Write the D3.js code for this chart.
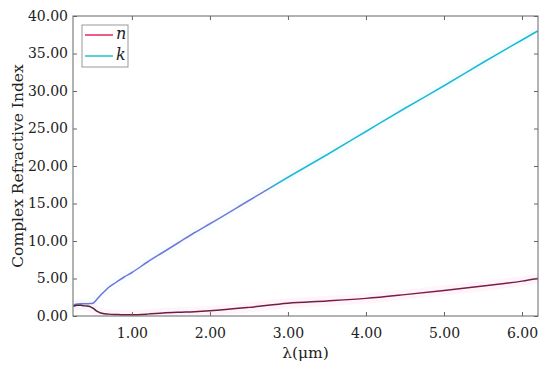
<!DOCTYPE html>
<html><head><meta charset="utf-8">
<script src="https://cdn.jsdelivr.net/npm/d3@7"></script>
<style>body{margin:0;background:#fff}svg{display:block}</style>
</head><body><svg id="c" width="550" height="366"></svg>
<script>
const wavelength = [0.25,0.30,0.35,0.40,0.45,0.50,0.55,0.60,0.65,0.70,0.80,0.90,1.00,1.20,1.40,1.60,1.80,2.00,2.50,3.00,3.50,4.00,4.50,5.00,5.50,6.00,6.20];
const nValues = [1.30,1.45,1.42,1.35,1.30,1.05,0.65,0.40,0.30,0.25,0.20,0.17,0.17,0.25,0.40,0.50,0.58,0.70,1.15,1.70,2.00,2.35,2.85,3.40,4.00,4.65,5.00];
const kValues = [1.45,1.60,1.62,1.62,1.65,1.70,2.20,2.80,3.30,3.80,4.50,5.20,5.80,7.20,8.50,9.80,11.1,12.3,15.4,18.5,21.5,24.6,27.7,30.7,33.8,36.8,38.0];
const xTicks = [1,2,3,4,5,6];
const yTicks = [0,5,10,15,20,25,30,35,40];
const seriesNames = ["n","k"];

const W=550,H=366,m={l:73,r:12,t:16,b:50};
const svg=d3.select("#c");
const x=d3.scaleLinear().domain([0.245,6.205]).range([m.l,W-m.r]);
const y=d3.scaleLinear().domain([0,40]).range([H-m.b,m.t]);
const font="DejaVu Serif";

const defs=svg.append("defs");
const gk=defs.append("linearGradient").attr("id","gk").attr("gradientUnits","userSpaceOnUse")
  .attr("x1",0).attr("x2",0).attr("y1",y(0)).attr("y2",y(40));
[[0,"#7070dc"],[16.5/40,"#7a78d8"],[18/40,"#1fb8d8"],[1,"#1ab8d8"]].forEach(s=>gk.append("stop").attr("offset",s[0]).attr("stop-color",s[1]));
const gn=defs.append("linearGradient").attr("id","gn").attr("gradientUnits","userSpaceOnUse")
  .attr("x1",x(0.25)).attr("x2",x(6.2)).attr("y1",0).attr("y2",0);
[[0,"#3c2a30"],[0.08,"#6a1e3c"],[1,"#7e1c46"]].forEach(s=>gn.append("stop").attr("offset",s[0]).attr("stop-color",s[1]));

const data=wavelength.map((w,i)=>({w,n:nValues[i],k:kValues[i]}));
defs.append("clipPath").attr("id","clip").append("rect")
  .attr("x",m.l).attr("y",m.t).attr("width",W-m.l-m.r).attr("height",H-m.t-m.b);
const g=svg.append("g").attr("clip-path","url(#clip)");
const lineN=d3.line().x(d=>x(d.w)).y(d=>y(d.n)).curve(d3.curveMonotoneX);
const lineK=d3.line().x(d=>x(d.w)).y(d=>y(d.k)).curve(d3.curveMonotoneX);
g.append("path").datum(data).attr("d",lineN).attr("fill","none").attr("stroke","#fbdcf0").attr("stroke-opacity",0.3).attr("stroke-width",10);
g.append("path").datum(data).attr("d",lineK).attr("fill","none").attr("stroke","#dcfafa").attr("stroke-opacity",0.2).attr("stroke-width",10);
g.append("path").datum(data).attr("d",lineK).attr("fill","none").attr("stroke","url(#gk)").attr("stroke-width",1.5);
g.append("path").datum(data).attr("d",lineN).attr("fill","none").attr("stroke","url(#gn)").attr("stroke-width",1.5);

const axc="#666";
svg.append("rect").attr("x",m.l).attr("y",m.t).attr("width",W-m.l-m.r).attr("height",H-m.t-m.b)
  .attr("fill","none").attr("stroke",axc).attr("stroke-width",1);
const tl=4;
svg.append("g").attr("transform",`translate(0,${H-m.b})`)
  .call(d3.axisBottom(x).tickValues(xTicks).tickFormat(d3.format(".2f")).tickSizeInner(-tl).tickSizeOuter(0).tickPadding(12));
svg.append("g").attr("transform",`translate(${m.l},0)`)
  .call(d3.axisLeft(y).tickValues(yTicks).tickFormat(d3.format(".2f")).tickSizeInner(-tl).tickSizeOuter(0).tickPadding(5));
svg.append("g").attr("transform",`translate(0,${m.t})`)
  .call(d3.axisTop(x).tickValues(xTicks).tickFormat("").tickSizeInner(-tl).tickSizeOuter(0));
svg.append("g").attr("transform",`translate(${W-m.r},0)`)
  .call(d3.axisRight(y).tickValues(yTicks).tickFormat("").tickSizeInner(-tl).tickSizeOuter(0));
svg.selectAll(".domain").remove();
svg.selectAll(".tick line").attr("stroke",axc);
svg.selectAll(".tick text").attr("font-family",font).attr("font-size",14).attr("fill","#222");

svg.append("text").attr("x",(m.l+W-m.r)/2).attr("y",358).attr("text-anchor","middle")
  .attr("font-family",font).attr("font-size",15.5).attr("fill","#222").text("λ(μm)");
svg.append("text").attr("transform",`translate(23,${(m.t+H-m.b)/2}) rotate(-90)`).attr("text-anchor","middle")
  .attr("font-family",font).attr("font-size",15.5).attr("fill","#222").text("Complex Refractive Index");

const lg=svg.append("g");
lg.append("rect").attr("x",82).attr("y",25).attr("width",46).attr("height",42).attr("fill","#fff").attr("stroke","#999");
const lc=["#e8245c","#22c2d2"];
seriesNames.forEach((s,i)=>{
  const yy=35+i*21;
  lg.append("line").attr("x1",85).attr("x2",113).attr("y1",yy).attr("y2",yy).attr("stroke",lc[i]).attr("stroke-width",1.5);
  lg.append("text").attr("x",116).attr("y",yy+4).attr("font-family",font).attr("font-style","italic").attr("font-size",16).attr("fill","#222").text(s);
});
</script></body></html>
